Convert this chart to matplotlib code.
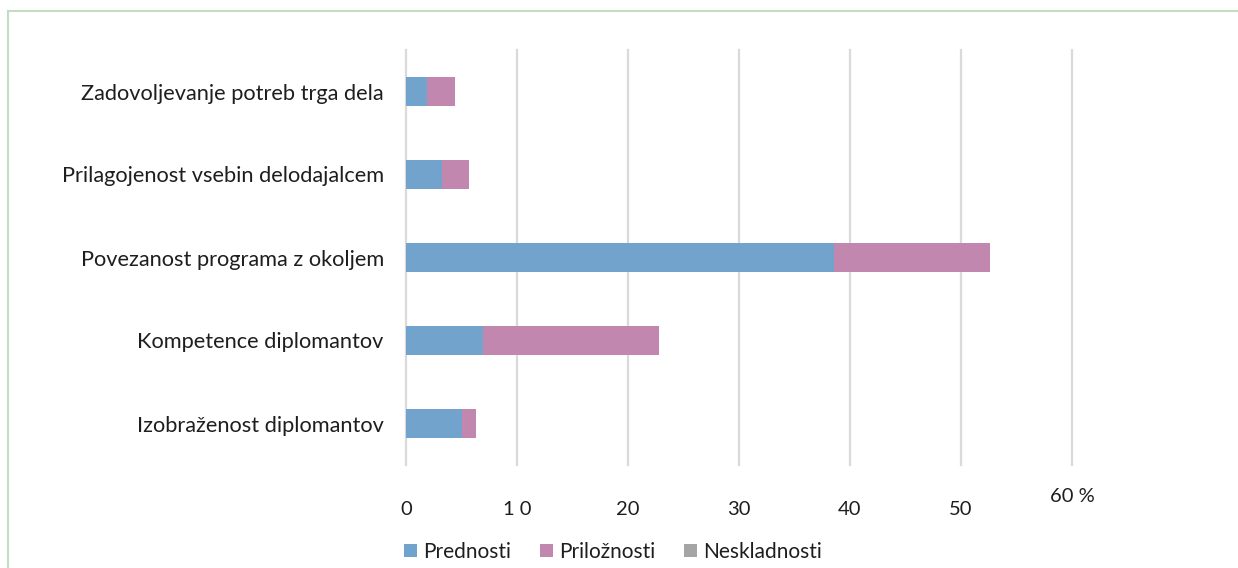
import matplotlib
matplotlib.use("Agg")
import matplotlib.pyplot as plt
from matplotlib.transforms import ScaledTranslation
from matplotlib.patches import Patch
from matplotlib.lines import Line2D

plt.rcParams['font.family'] = ['Lato', 'DejaVu Sans']

categories = [
    "Zadovoljevanje potreb trga dela",
    "Prilagojenost vsebin delodajalcem",
    "Povezanost programa z okoljem",
    "Kompetence diplomantov",
    "Izobraženost diplomantov",
]
prednosti = [1.9, 3.2, 38.6, 6.9, 5.0]
priloznosti = [2.5, 2.5, 14.0, 15.9, 1.35]
neskladnosti = [0, 0, 0, 0, 0]
series_names = ["Prednosti", "Priložnosti", "Neskladnosti"]
colors = ["#72A3CC", "#C187AE", "#A5A5A5"]
xticks = [0, 10, 20, 30, 40, 50, 60]
xticklabels = ["0", "1 0", "20", "30", "40", "50", "60 %"]

W, H = 1238, 568
fig = plt.figure(figsize=(W / 100, H / 100), dpi=100)
ax = fig.add_axes([406 / W, 1 - 465 / H, (1072 - 406) / W, (465 - 50) / H])

y = list(range(len(categories)))
bh = 0.35
left = [0] * len(categories)
for vals, name, c in zip([prednosti, priloznosti, neskladnosti], series_names, colors):
    ax.barh(y, vals, left=left, height=bh, color=c, label=name, zorder=3)
    left = [a + b for a, b in zip(left, vals)]

ax.set_xlim(0, 60)
ax.set_ylim(len(categories) - 0.5, -0.5)
for s in ax.spines.values():
    s.set_visible(False)
ax.set_xticks(xticks)
ax.set_xticklabels(xticklabels, fontsize=14.5, color="#1E1E1E")
ax.set_yticks(y)
ax.set_yticklabels(categories, fontsize=15.7, color="#1E1E1E")
ax.tick_params(axis='x', length=0, pad=26)
ax.tick_params(axis='y', length=0, pad=16)
ax.grid(axis='x', color="#DADADA", linewidth=1.6, zorder=0)
for gl in ax.get_xgridlines():
    gl.set_clip_on(False)

lab = ax.get_xticklabels()[-1]
lab.set_transform(lab.get_transform() + ScaledTranslation(0, 13 / 100, fig.dpi_scale_trans))

handles = [Patch(facecolor=c, edgecolor='none') for c in colors]
fig.legend(handles, series_names, loc='center', bbox_to_anchor=(613 / W, 1 - 552 / H),
           ncol=3, frameon=False, fontsize=15, handlelength=0.6, handleheight=0.6,
           handletextpad=0.3, columnspacing=1.4, labelcolor="#1E1E1E")

border = "#C2DDC2"
fig.add_artist(Line2D([8 / W, 1], [1 - 11 / H, 1 - 11 / H], color=border, linewidth=1.5, transform=fig.transFigure))
fig.add_artist(Line2D([8 / W, 8 / W], [1 - 11 / H, 0], color=border, linewidth=1.5, transform=fig.transFigure))

fig.savefig("out.png", dpi=100, facecolor="white")
